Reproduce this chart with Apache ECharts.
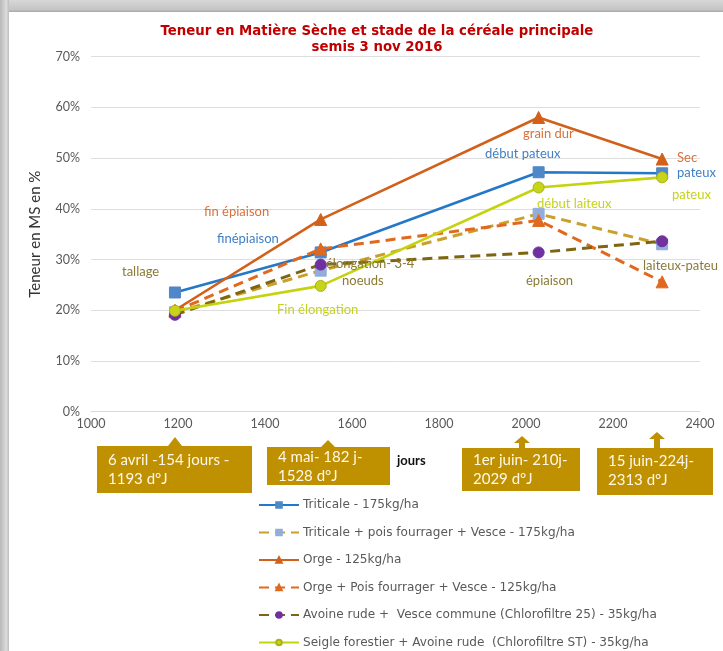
<!DOCTYPE html>
<html>
<head>
<meta charset="utf-8">
<script src="https://cdn.jsdelivr.net/npm/echarts@6/dist/echarts.min.js"></script>
<style>
html,body{margin:0;padding:0;background:#fff;}
#c{width:723px;height:651px;}
</style>
</head>
<body>
<div id="c"></div>
<script>
// ---- data ----
const xDays = [1193, 1528, 2029, 2313];
const seriesNames = [
  'Triticale - 175kg/ha',
  'Triticale + pois fourrager + Vesce - 175kg/ha',
  'Orge - 125kg/ha',
  'Orge + Pois fourrager + Vesce - 125kg/ha',
  'Avoine rude +  Vesce commune (Chlorofiltre 25) - 35kg/ha',
  'Seigle forestier + Avoine rude  (Chlorofiltre ST) - 35kg/ha'
];
const triticale = [23.5, 31.4, 47.2, 47.0];
const triticalePois = [19.6, 27.8, 39.0, 33.0];
const orge = [20.0, 37.9, 58.0, 49.8];
const orgePois = [19.8, 32.1, 37.7, 25.6];
const avoine = [19.1, 29.0, 31.4, 33.6];
const seigle = [19.9, 24.8, 44.2, 46.2];
const yTicks = [0, 10, 20, 30, 40, 50, 60, 70];
const xTicks = [1000, 1200, 1400, 1600, 1800, 2000, 2200, 2400];
const stageLabels = [
  ['tallage', 'olive'], ['fin épiaison', 'orange'], ['finépiaison', 'blue'],
  ['élongation- 3-4', 'olive'], ['noeuds', 'olive'], ['Fin élongation', 'yellow'],
  ['grain dur', 'orange'], ['début pateux', 'blue'], ['Sec', 'orange'],
  ['pateux', 'blue'], ['pateux', 'yellow'], ['début laiteux', 'yellow'],
  ['laiteux-pateu', 'olive'], ['épiaison', 'olive']
];
const dateBoxes = [
  ['6 avril -154 jours -', '1193 d°J'],
  ['4 mai- 182 j-', '1528 d°J'],
  ['1er juin- 210j-', '2029 d°J'],
  ['15 juin-224j-', '2313 d°J']
];

// ---- styles ----
const labelColors = {olive: '#8a7a34', orange: '#d8703a', blue: '#3f7fc6', yellow: '#c4d21c'};
const labelPos = [
  [122, 273], [204, 213], [217, 240], [326, 265], [342, 282], [277, 311],
  [523, 135], [485, 155], [677, 159], [677, 174], [672, 196], [537, 205],
  [643, 267], [526, 282]
];
// x, y, w, h, arrowX, arrowTipY, bigArrow, textTop
const boxPos = [
  [97, 446, 155, 47, 175, 437, false, 451],
  [267, 447, 123, 38, 328, 440, false, 448],
  [462, 448, 118, 43, 522, 436, true, 451],
  [597, 448, 116, 47, 657, 432, true, 452]
];
const gold = '#bf9000';

function pairs(vals) { return xDays.map((x, i) => [x, vals[i]]); }

const seriesDefs = [
  {data: triticale, color: '#2478c8', marker: '#4f87c8', symbol: 'rect', size: 11, dash: 'solid', width: 2.6},
  {data: triticalePois, color: '#c9a02a', marker: '#92acdc', symbol: 'rect', size: 11, dash: [10, 6], width: 3},
  {data: orge, color: '#d2601a', marker: '#d2601a', symbol: 'triangle', size: 12, dash: 'solid', width: 2.6},
  {data: orgePois, color: '#e0691f', marker: '#e0691f', symbol: 'triangle', size: 12, dash: [10, 6], width: 3},
  {data: avoine, color: '#7f6510', marker: '#7030a0', symbol: 'circle', size: 11, dash: [10, 6], width: 3},
  {data: seigle, color: '#c5d30e', marker: '#c8d41a', symbol: 'circle', size: 11, dash: 'solid', width: 2.6}
];

const series = seriesDefs.map((d, i) => ({
  name: seriesNames[i],
  type: 'line',
  data: pairs(d.data),
  symbol: d.symbol,
  symbolSize: d.size,
  showAllSymbol: true,
  lineStyle: {color: d.color, width: d.width, type: d.dash},
  itemStyle: {color: d.marker, borderColor: i === 5 ? '#a9b512' : d.marker, borderWidth: 1},
  z: 3 + i,
  animation: false
}));

const graphics = [];
// frame
graphics.push({type: 'rect', shape: {x: 0, y: 0, width: 723, height: 12}, z: 100,
  style: {fill: new echarts.graphic.LinearGradient(0, 0, 0, 1, [{offset: 0, color: '#d8d8d8'}, {offset: 0.8, color: '#c4c4c4'}, {offset: 1, color: '#a8a8a8'}])}});
graphics.push({type: 'rect', shape: {x: 0, y: 0, width: 9, height: 651}, z: 100,
  style: {fill: new echarts.graphic.LinearGradient(0, 0, 1, 0, [{offset: 0, color: '#b8b8b8'}, {offset: 0.7, color: '#dcdcdc'}, {offset: 1, color: '#bdbdbd'}])}});

// stage labels
stageLabels.forEach((s, i) => {
  graphics.push({type: 'text', left: labelPos[i][0], top: labelPos[i][1] - 8, z: 50,
    style: {text: s[0], fill: labelColors[s[1]], font: '13px Lato'}});
});

// date boxes with arrows
dateBoxes.forEach((b, i) => {
  const [x, y, w, h, ax, ay, big, ty] = boxPos[i];
  if (big) {
    graphics.push({type: 'polygon', z: 40, shape: {points: [[ax, ay], [ax + 8, ay + 7], [ax + 3, ay + 7], [ax + 3, y], [ax - 3, y], [ax - 3, ay + 7], [ax - 8, ay + 7]]}, style: {fill: gold}});
  } else {
    graphics.push({type: 'polygon', z: 40, shape: {points: [[ax, ay], [ax + 7, y], [ax - 7, y]]}, style: {fill: gold}});
  }
  graphics.push({type: 'rect', z: 40, shape: {x: x, y: y, width: w, height: h}, style: {fill: gold}});
  graphics.push({type: 'text', z: 41, left: x + 11, top: ty,
    style: {text: b[0] + '\n' + b[1], fill: '#fff8e8', font: '15px Lato', lineHeight: 19}});
});
graphics.push({type: 'text', left: 397, top: 454, z: 50, style: {text: 'jours', fill: '#111', font: 'bold 13px Lato'}});

const chart = echarts.init(document.getElementById('c'), null, {renderer: 'canvas'});
chart.setOption({
  backgroundColor: '#ffffff',
  animation: false,
  title: {
    text: 'Teneur en Matière Sèche et stade de la céréale principale\nsemis 3 nov 2016',
    left: 372, top: 18, textAlign: 'center',
    textStyle: {color: '#c00000', fontFamily: 'DejaVu Sans Condensed', fontWeight: 'bold', fontSize: 14.8, lineHeight: 16}
  },
  grid: {left: 91, right: 23, top: 56.6, bottom: 239.3, containLabel: false},
  xAxis: {
    type: 'value', min: xTicks[0], max: xTicks[xTicks.length - 1], interval: 200,
    axisLine: {show: true, lineStyle: {color: '#d9d9d9'}},
    axisTick: {show: false},
    splitLine: {show: false},
    axisLabel: {color: '#595959', fontFamily: 'Lato', fontSize: 12.5, margin: 6, formatter: v => String(v)}
  },
  yAxis: {
    type: 'value', min: yTicks[0], max: yTicks[yTicks.length - 1], interval: 10,
    name: 'Teneur en MS en %', nameLocation: 'middle', nameGap: 48,
    nameTextStyle: {color: '#333', fontFamily: 'Lato', fontSize: 15},
    axisLine: {show: false}, axisTick: {show: false},
    splitLine: {lineStyle: {color: '#dedede', width: 1}},
    axisLabel: {color: '#595959', fontFamily: 'Lato', fontSize: 12.5, margin: 11, formatter: '{value}%'}
  },
  legend: {
    orient: 'vertical', left: 258, top: 498, height: 153, padding: 0,
    itemWidth: 40, itemHeight: 7, itemGap: 13.5,
    textStyle: {color: '#595959', fontFamily: 'DejaVu Sans', fontSize: 12.1, lineHeight: 14, padding: [0, 0, 0, -1]},
    data: seriesNames
  },
  series: series,
  graphic: graphics
});
</script>
</body>
</html>
